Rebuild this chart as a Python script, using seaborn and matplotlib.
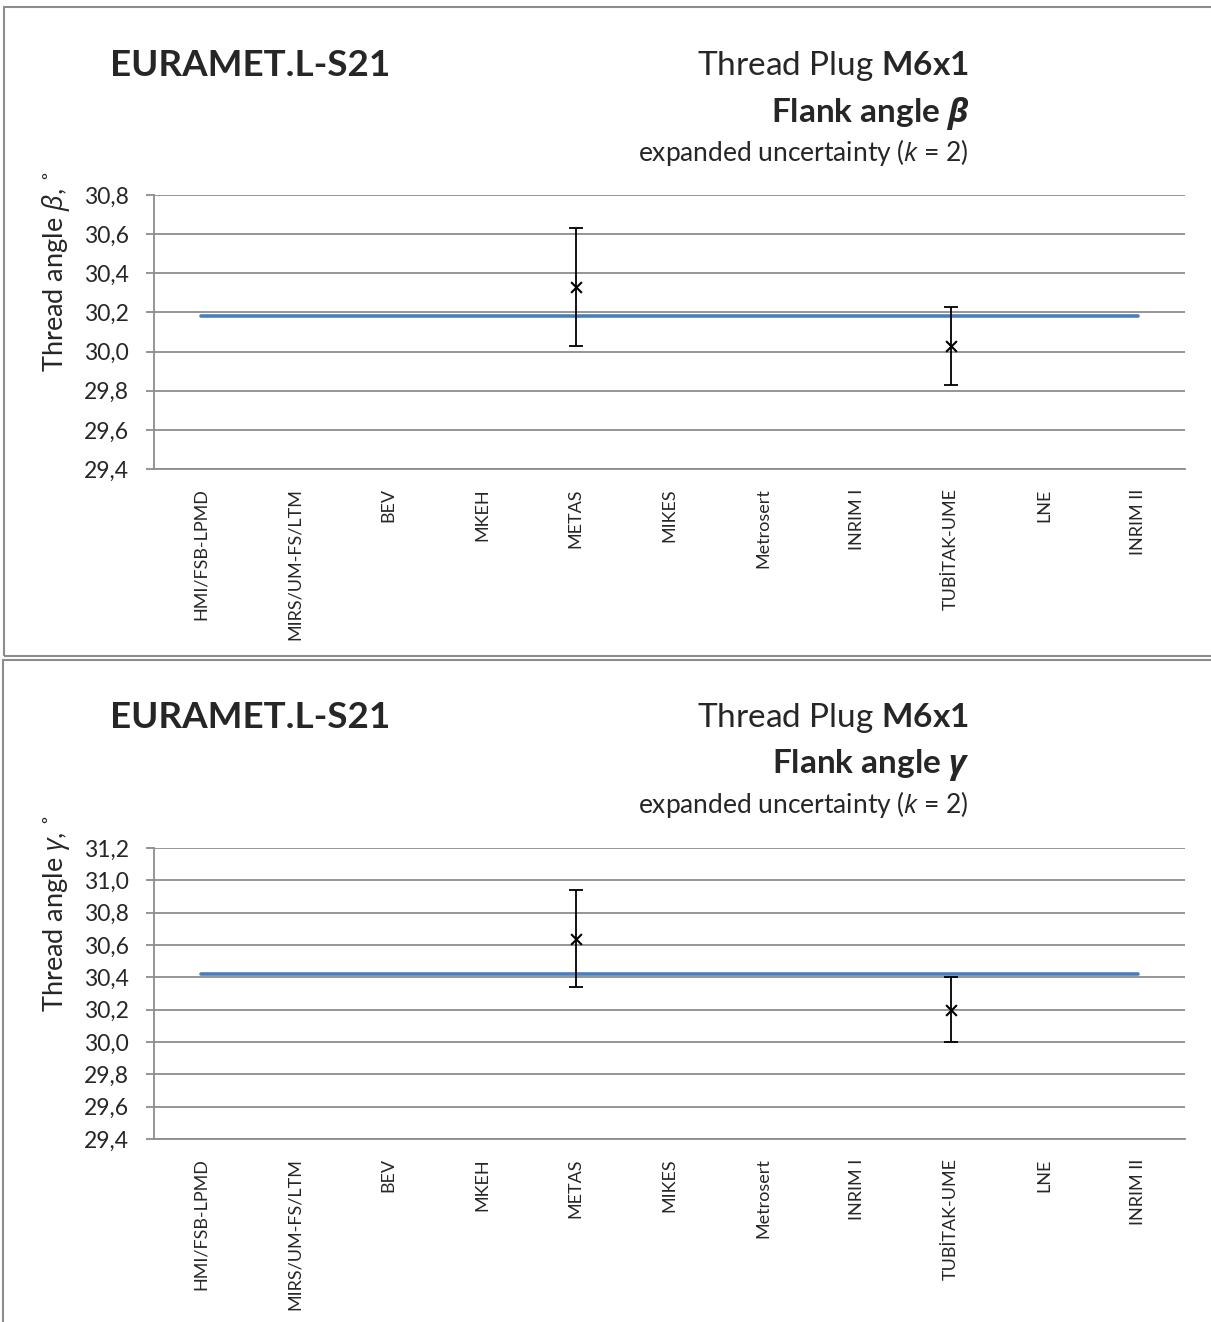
import numpy as np
import matplotlib
matplotlib.use("Agg")
import matplotlib.pyplot as plt
import seaborn as sns
from matplotlib.patches import Rectangle

# datos
labs = ["HMI/FSB-LPMD", "MIRS/UM-FS/LTM", "BEV", "MKEH", "METAS", "MIKES",
        "Metrosert", "INRIM I", "TUBİTAK-UME", "LNE", "INRIM II"]
ref_beta = 30.18
ref_gamma = 30.42
beta_val = [np.nan, np.nan, np.nan, np.nan, 30.33, np.nan, np.nan, np.nan, 30.03, np.nan, np.nan]
beta_unc = [np.nan, np.nan, np.nan, np.nan, 0.30, np.nan, np.nan, np.nan, 0.20, np.nan, np.nan]
gamma_val = [np.nan, np.nan, np.nan, np.nan, 30.64, np.nan, np.nan, np.nan, 30.20, np.nan, np.nan]
gamma_unc = [np.nan, np.nan, np.nan, np.nan, 0.30, np.nan, np.nan, np.nan, 0.20, np.nan, np.nan]
beta_ticks = [29.4, 29.6, 29.8, 30.0, 30.2, 30.4, 30.6, 30.8]
gamma_ticks = [29.4, 29.6, 29.8, 30.0, 30.2, 30.4, 30.6, 30.8, 31.0, 31.2]

sns.set_theme(style="white")
plt.rcParams['font.family'] = ['Lato', 'Open Sans', 'DejaVu Sans']
plt.rcParams['mathtext.fontset'] = 'custom'
plt.rcParams['mathtext.it'] = 'Open Sans:italic'
plt.rcParams['mathtext.bf'] = 'Lato:bold'
plt.rcParams['mathtext.bfit'] = 'Open Sans:italic:bold'
plt.rcParams['mathtext.rm'] = 'Lato'

W, H = 1211, 1322
fig = plt.figure(figsize=(W / 100, H / 100), dpi=100)

# marcos de cada panel
fig.patches.append(Rectangle((4 / W, 1 - 656 / H), 1.2, 649 / H, transform=fig.transFigure,
                             fill=False, edgecolor="#8c8c8c", lw=1.5))
fig.patches.append(Rectangle((3 / W, -0.1), 1.2, 0.1 + 1 - 660 / H, transform=fig.transFigure,
                             fill=False, edgecolor="#8c8c8c", lw=1.5))

x = np.arange(len(labs))


def panel(ytop, ybot, vals, unc, ref, ticks, sym, y0, lab_y):
    ax = fig.add_axes([154 / W, 1 - ybot / H, (1185 - 154) / W, (ybot - ytop) / H])
    sns.lineplot(x=x, y=[ref] * len(labs), ax=ax, color="#4a7ebb", lw=2.6)
    ax.errorbar(x, vals, yerr=unc, fmt="none", ecolor="black", elinewidth=1.3,
                capsize=5, capthick=1.3, zorder=5)
    sns.scatterplot(x=x, y=vals, ax=ax, marker="x", color="black", s=60,
                    linewidth=1.5, zorder=6)
    ax.set_xlim(-0.5, len(labs) - 0.5)
    ax.set_ylim(ticks[0], ticks[-1])
    ax.set_yticks(ticks)
    ax.set_yticklabels([f"{t:.1f}".replace(".", ",") for t in ticks], fontsize=16.5)
    ax.set_xticks(x)
    ax.set_xticklabels(labs, rotation=90, fontsize=13, va="top")
    ax.tick_params(axis="x", length=0, pad=14)
    ax.tick_params(axis="y", length=6, width=1.3, color="#8c8c8c", direction="out", pad=12, left=True)
    ax.grid(axis="y", color="#8c8c8c", lw=1.3)
    ax.set_axisbelow(True)
    for s in ["top", "right"]:
        ax.spines[s].set_visible(False)
    for s in ["left", "bottom"]:
        ax.spines[s].set_color("#8c8c8c")
        ax.spines[s].set_linewidth(1.3)
    ax.set_xlabel("")
    ax.set_ylabel(r"Thread angle $\mathit{" + sym + r"}$, ˚", fontsize=19.5)
    ax.yaxis.set_label_coords(-0.08, lab_y)

    fig.text(110 / W, 1 - y0 / H, "EURAMET.L-S21", fontsize=26.5, fontweight="bold",
             va="center", ha="left")
    fig.text(969 / W, 1 - y0 / H, r"Thread Plug $\mathbf{M6x1}$", fontsize=24,
             va="center", ha="right")
    fig.text(970 / W, 1 - (y0 + 47) / H, r"Flank angle $\mathbfit{" + sym + "}$", fontsize=24,
             fontweight="bold", va="center", ha="right")
    fig.text(969 / W, 1 - (y0 + 87) / H, r"expanded uncertainty ($\mathit{k}$ = 2)",
             fontsize=19, va="center", ha="right")
    return ax


panel(195, 469, beta_val, beta_unc, ref_beta, beta_ticks, r"\beta", 66, 0.72)
panel(848, 1139, gamma_val, gamma_unc, ref_gamma, gamma_ticks, r"\gamma", 718, 0.775)

fig.savefig("out.png", dpi=100)
